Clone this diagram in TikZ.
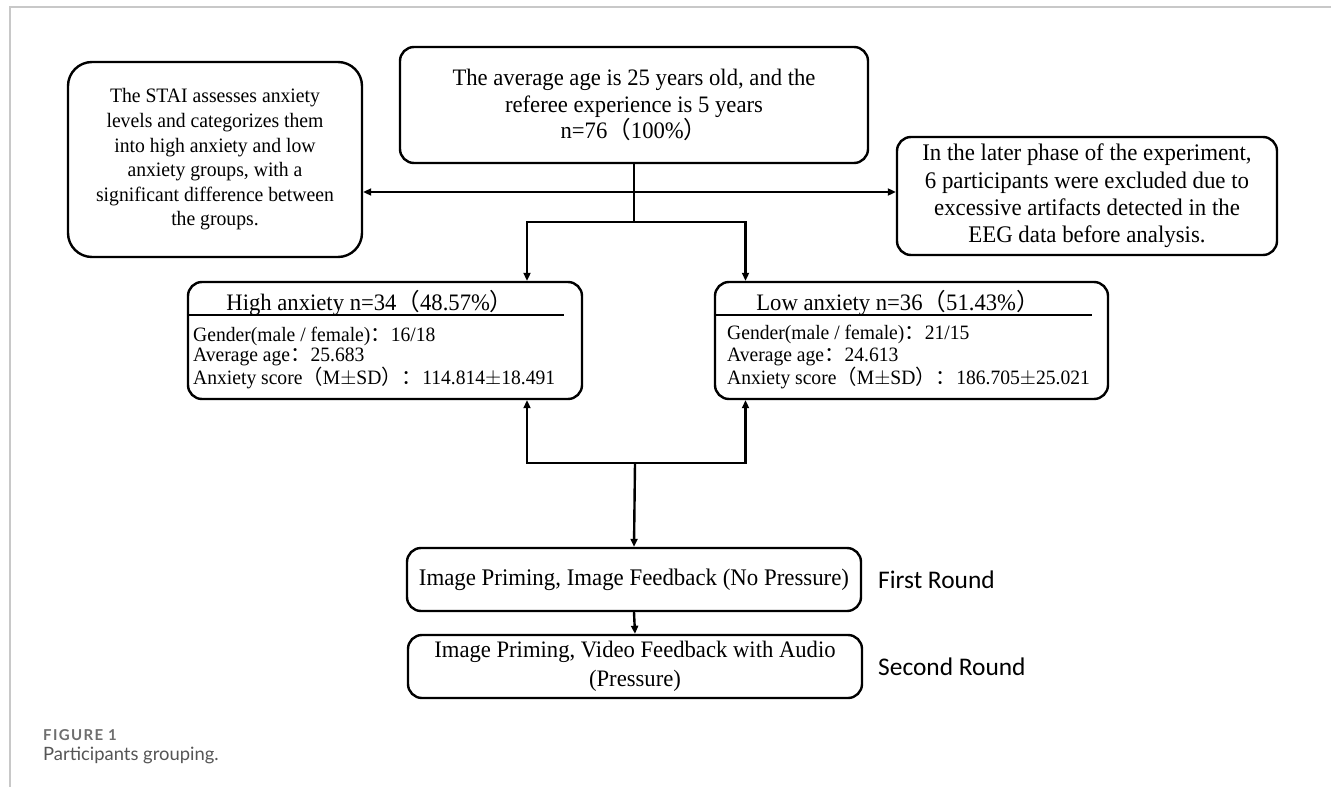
\documentclass[tikz,border=0pt]{standalone}
\usepackage{fontspec}
\setmainfont{Liberation Serif}[FakeStretch=0.96]
\newfontfamily\cjkfont{Noto Sans CJK SC}
\newfontfamily\roundfont{Carlito}
\newfontfamily\capfont{Lato}
\newfontfamily\capwide{Lato}[LetterSpace=9]
\usetikzlibrary{arrows.meta}
\newcommand{\lp}{{\cjkfont （}}
\newcommand{\rp}{{\cjkfont ）}}
\newcommand{\cc}{{\cjkfont ：}}
\definecolor{framegray}{HTML}{C8C8C8}
\definecolor{capgray}{HTML}{6E6E6E}
\definecolor{textgray}{HTML}{555555}

\begin{document}
\begin{tikzpicture}[x=1pt,y=-1pt]
	\tikzset{box/.style={draw,line width=2.4pt,rounded corners=14pt,align=center,inner sep=0pt},
		link/.style={line width=2.4pt},
		arr/.style={link,-{Triangle[length=8pt,width=7pt]}}}
	\useasboundingbox (0,0) rectangle (1331,787);
	
	% page frame
	\draw[framegray,line width=1.5pt] (10,787) -- (10,7) -- (1331,7);
	
	% top row
	\node[box,minimum width=468pt,minimum height=116pt,font=\fontsize{23.6}{26.8}\selectfont] (top) at (634,105)
		{The average age is 25 years old, and the\\referee experience is 5 years\\n=76\lp 100\%\rp};
	\node[box,rounded corners=24pt,minimum width=294pt,minimum height=195pt,font=\fontsize{20.5}{24.6}\selectfont] (stai) at (215,159.5)
		{The STAI assesses anxiety\\levels and categorizes them\\into high anxiety and low\\anxiety groups, with a\\significant difference between\\the groups.};
	\node[box,minimum width=380pt,minimum height=118pt,font=\fontsize{23.8}{27.3}\selectfont] (eeg) at (1087,196)
		{In the later phase of the experiment,\\6 participants were excluded due to\\excessive artifacts detected in the\\EEG data before analysis.};
	
	% group boxes
	\node[box,minimum width=394pt,minimum height=117pt] (high) at (385,340.5) {};
	\node[box,minimum width=393pt,minimum height=117pt] (low) at (911.5,340.5) {};
	
	\node[font=\fontsize{23.6}{26}\selectfont] (hightitle) at (370,303) {High anxiety n=34\lp 48.57\%\rp};
	\node[font=\fontsize{23.6}{26}\selectfont] (lowtitle) at (898,303) {Low anxiety n=36\lp 51.43\%\rp};
	\draw[link] ([yshift=-34pt]high.north west) -- ++(377,0);
	\draw[link] ([yshift=-34pt]low.north west) -- ++(378,0);
	
	\node[anchor=west,align=left,inner sep=0pt,font=\fontsize{20.4}{20}\selectfont] (highbody) at (193,358)
		{Gender(male / female)\cc 16/18\\Average age\cc 25.683\\Anxiety score\lp M$\pm$SD\rp\cc 114.814$\pm$18.491};
	\node[anchor=west,align=left,inner sep=0pt,font=\fontsize{20.4}{21.5}\selectfont] (lowbody) at (727,357)
		{Gender(male / female)\cc 21/15\\Average age\cc 24.613\\Anxiety score\lp M$\pm$SD\rp\cc 186.705$\pm$25.021};
	
	% rounds
	\node[box,minimum width=454pt,minimum height=63pt,font=\fontsize{23.8}{26}\selectfont] (first) at (634,579.5)
		{Image Priming, Image Feedback (No Pressure)};
	\node[box,minimum width=454pt,minimum height=63pt,font=\fontsize{23.6}{29}\selectfont] (second) at (635,666.5)
		{Image Priming, Video Feedback with Audio\\(Pressure)};
	\node[anchor=west,inner sep=0pt,font=\roundfont\fontsize{25.4}{28}\selectfont] (round1) at (878,580) {First Round};
	\node[anchor=west,inner sep=0pt,font=\roundfont\fontsize{25.4}{28}\selectfont] (round2) at (878,667) {Second Round};
	
	% connectors
	\coordinate (mid) at (634,192);
	\coordinate (fork) at (634,222);
	\coordinate (join) at (635,463);
	\draw[link] (top.south) -- (fork);
	\draw[arr] (mid) -- (stai.east |- mid);
	\draw[arr] (mid) -- (eeg.west |- mid);
	\draw[arr] (fork) -| ([xshift=142pt]high.north);
	\draw[arr] (fork) -| ([xshift=-166pt]low.north);
	\draw[arr] (join) -| ([xshift=142pt]high.south);
	\draw[arr] (join) -| ([xshift=-166pt]low.south);
	\draw[arr] (join) -- (first.north);
	\draw[arr] (first.south) -- (second.north);
	
	% caption
	\node[anchor=west,inner sep=0pt,text=capgray,font=\capwide\bfseries\fontsize{15}{17}\selectfont] (figno) at (43,735) {FIGURE 1};
	\node[anchor=west,inner sep=0pt,text=textgray,font=\capfont\fontsize{18.4}{20}\selectfont] (figcap) at (43,755) {Participants grouping.};
\end{tikzpicture}
\end{document}
